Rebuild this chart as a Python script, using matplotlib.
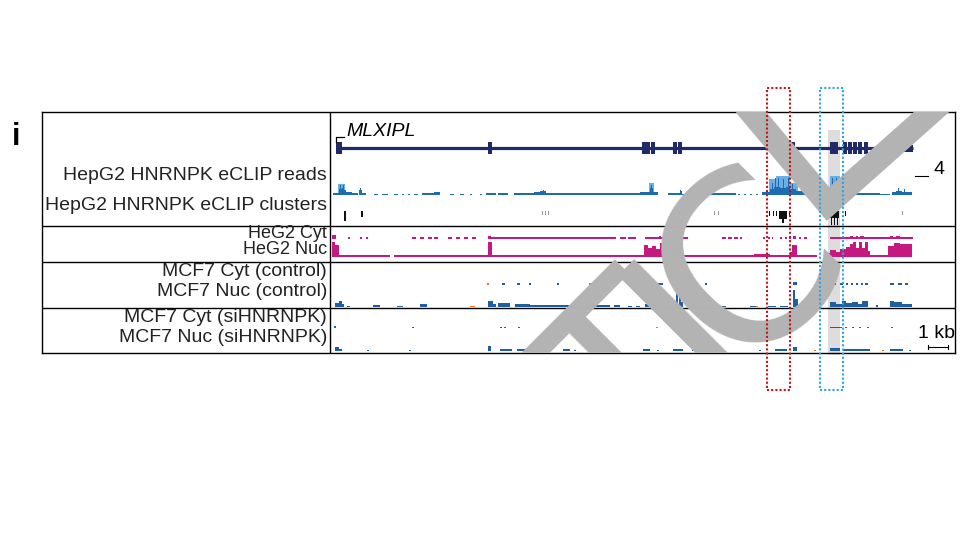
import matplotlib

matplotlib.use("Agg")

import matplotlib.pyplot as plt
from matplotlib.patches import Rectangle

plt.rcParams['font.family'] = ['Liberation Sans', 'DejaVu Sans']

# ---- data (positions in kb along the locus) ----
gene_name = "MLXIPL"
gene_span = (0.3, 29.15)
cds_exons = [(0.3, 0.6), (7.92, 8.08), (15.62, 15.78), (15.82, 15.98), (16.07, 16.23),
             (17.17, 17.33), (17.42, 17.58), (23.07, 23.23), (25.0, 25.4), (25.67, 25.83),
             (25.92, 26.08), (26.17, 26.33), (26.42, 26.58), (26.72, 26.88),
             (28.02, 28.18), (28.27, 28.43)]
utr_exons = [(28.65, 29.15)]

# eCLIP read coverage (start, end, signal), scale max = 4
reads_dark = [(0.15, 0.45, 0.5), (0.45, 0.6, 1.2), (0.6, 0.7, 1.5), (0.7, 0.8, 1.0), (0.8, 1.1, 0.7),
              (1.1, 1.4, 0.4), (1.45, 1.6, 1.1), (1.6, 1.8, 0.5), (2.2, 2.4, 0.3), (2.6, 2.9, 0.3),
              (3.2, 3.4, 0.3), (3.6, 3.7, 0.3), (3.9, 4.0, 0.3), (4.2, 4.4, 0.3), (4.6, 5.2, 0.4),
              (5.2, 5.5, 0.6), (6.0, 6.2, 0.3), (6.5, 6.7, 0.3), (7.0, 7.1, 0.2), (7.5, 7.6, 0.2),
              (7.8, 8.3, 0.5), (8.4, 8.9, 0.4), (9.2, 10.2, 0.4), (10.2, 10.5, 0.6), (10.5, 10.8, 0.8),
              (10.8, 12.0, 0.5), (12.0, 13.5, 0.5), (13.5, 15.0, 0.4), (15.0, 15.5, 0.5),
              (15.5, 16.0, 0.6), (16.0, 16.15, 1.4), (16.15, 16.4, 0.6), (16.9, 17.5, 0.4),
              (17.5, 17.6, 0.8), (17.6, 18.3, 0.3), (18.4, 18.5, 0.8), (18.6, 18.8, 0.5),
              (18.8, 20.3, 0.4), (20.4, 20.5, 0.2), (20.7, 20.8, 0.2), (21.0, 21.1, 0.2),
              (21.3, 21.4, 0.2), (21.6, 22.0, 0.6), (22.0, 22.2, 1.2), (22.2, 22.5, 1.6),
              (22.5, 22.8, 1.4), (22.8, 23.0, 1.7), (23.0, 23.3, 1.2), (23.3, 23.6, 0.8),
              (23.6, 24.0, 0.6), (24.0, 24.4, 0.3), (24.6, 24.9, 0.3), (24.9, 25.0, 0.8),
              (25.0, 25.2, 1.6), (25.2, 25.45, 1.8), (25.45, 25.7, 1.3), (25.7, 25.9, 1.0),
              (25.9, 26.2, 0.7), (26.2, 27.5, 0.5), (27.5, 28.0, 0.2), (28.1, 28.3, 0.7),
              (28.3, 28.6, 0.9), (28.6, 29.1, 0.7)]
reads_spikes = [(0.5, 2.2), (0.65, 2.1), (1.5, 1.4), (10.65, 1.1), (16.05, 2.2), (17.52, 1.0),
                (18.45, 1.0), (22.1, 2.6), (22.25, 3.5), (22.4, 3.6), (22.65, 3.3), (22.9, 3.6),
                (23.1, 2.4), (25.1, 3.6), (25.3, 3.5), (25.55, 2.3), (25.75, 1.8), (28.4, 1.4),
                (28.7, 1.2)]
reads_light = [(0.4, 0.75, 2.4), (15.95, 16.2, 2.5), (21.95, 22.3, 3.4), (22.3, 23.0, 3.9),
               (23.0, 23.4, 2.6), (25.0, 25.5, 3.9), (25.5, 25.8, 2.4)]

# eCLIP clusters (start, end, depth)
clusters_black = [(0.72, 0.8, 10), (1.57, 1.65, 6), (21.95, 22.0, 5), (22.15, 22.2, 5),
                  (22.3, 22.35, 5), (22.45, 22.85, 8), (22.6, 22.7, 12), (22.95, 23.0, 5),
                  (25.0, 25.45, 7), (25.05, 25.1, 14), (25.2, 25.25, 14), (25.35, 25.4, 14),
                  (25.75, 25.82, 5)]
clusters_grey = [(10.6, 10.65, 4), (10.75, 10.8, 4), (10.9, 10.95, 4), (19.2, 19.25, 4),
                 (19.4, 19.45, 4), (28.62, 28.67, 4)]

# HepG2 fractionation RNA-seq (start, end, height)
hep_cyt = [(0.1, 0.3, 4), (0.9, 1.0, 1.5), (1.5, 1.6, 1.5), (1.8, 1.9, 1.5), (4.1, 4.3, 1.5),
           (4.5, 4.7, 1.5), (4.9, 5.1, 1.5), (5.2, 5.4, 1.5), (5.9, 6.1, 1.5), (6.3, 6.5, 1.5),
           (6.7, 6.9, 1.5), (7.1, 7.3, 1.5), (7.9, 8.05, 3), (8.05, 14.3, 1.5), (14.5, 14.8, 1.5),
           (14.9, 15.3, 1.5), (15.75, 17.9, 1.5), (16.45, 16.55, 3), (17.15, 17.3, 3),
           (19.6, 19.8, 1.5), (19.9, 20.1, 1.5), (20.2, 20.4, 1.5), (20.5, 20.6, 1.5),
           (21.65, 21.75, 1.5), (21.9, 22.0, 1.5), (22.1, 22.15, 1.5), (22.5, 22.6, 1.5),
           (22.75, 22.85, 1.5), (22.95, 23.05, 1.5), (23.15, 23.3, 2.5), (23.45, 23.55, 1.5),
           (23.7, 23.85, 1.5), (25.0, 29.15, 1.5), (26.0, 26.15, 2.5), (26.3, 26.4, 2.5),
           (26.5, 26.7, 3), (28.0, 28.15, 2.5), (28.3, 28.5, 2.5)]
hep_nuc = [(0.1, 0.25, 15), (0.25, 0.45, 12), (0.45, 3.0, 1.2), (3.2, 7.9, 1.2), (7.9, 8.1, 15),
           (8.1, 15.7, 1.5), (15.7, 15.9, 12), (15.9, 16.1, 9), (16.1, 16.3, 11), (16.3, 16.5, 8),
           (16.5, 16.65, 14), (16.65, 17.15, 1.5), (17.15, 17.3, 15), (17.3, 17.4, 3),
           (17.4, 17.55, 15), (17.55, 21.2, 1.5), (21.2, 22.0, 2.5), (22.0, 23.0, 1.5),
           (23.0, 23.1, 5), (23.1, 23.35, 12), (23.35, 24.35, 1.5), (24.85, 25.0, 4),
           (25.0, 25.3, 7), (25.3, 25.5, 5), (25.5, 25.8, 8), (25.8, 26.0, 10), (26.0, 26.15, 13),
           (26.15, 26.3, 15), (26.3, 26.45, 9), (26.45, 26.6, 15), (26.6, 26.75, 9),
           (26.75, 26.9, 15), (26.9, 27.0, 6), (27.0, 27.9, 2), (27.9, 28.2, 11),
           (28.2, 28.5, 14), (28.5, 29.1, 13)]

# MCF7 fractionation RNA-seq, control and siHNRNPK (start, end, height)
ctrl_cyt = [(8.6, 8.75, 2), (9.35, 9.5, 2), (9.95, 10.05, 2), (11.35, 11.45, 2), (16.25, 16.65, 2),
            (17.5, 17.65, 2), (17.85, 17.95, 2), (18.75, 18.85, 2), (23.15, 23.35, 3),
            (25.0, 25.3, 2), (25.5, 25.65, 2), (25.8, 25.9, 2), (26.05, 26.15, 2), (26.3, 26.4, 2),
            (26.55, 26.65, 2), (26.75, 26.9, 2), (28.0, 28.2, 2), (28.4, 28.6, 2), (28.75, 28.9, 2)]
ctrl_cyt_minor = [(7.85, 7.95, 2), (12.95, 13.05, 2), (15.35, 15.5, 2)]
ctrl_nuc = [(0.25, 0.45, 4), (0.45, 0.6, 6), (0.6, 0.7, 3), (0.85, 1.0, 1.5), (2.15, 2.5, 2),
            (3.35, 3.65, 1.5), (4.5, 4.85, 3), (7.9, 8.15, 6), (8.15, 8.3, 3), (8.4, 9.0, 4),
            (9.25, 10.0, 3), (10.0, 12.0, 2.5), (12.0, 14.0, 2), (14.2, 14.5, 2), (14.9, 15.1, 1.5),
            (15.3, 15.5, 1.5), (15.75, 16.65, 3), (17.3, 17.4, 14), (17.45, 17.55, 17),
            (17.55, 17.65, 5), (18.0, 18.2, 1), (18.5, 18.7, 1), (19.1, 19.2, 1), (19.6, 19.8, 1),
            (21.0, 21.3, 1.5), (21.9, 22.3, 1.5), (22.5, 22.9, 1.5), (23.15, 23.25, 17),
            (23.25, 23.4, 8), (25.0, 25.3, 5), (25.3, 25.6, 3), (25.6, 25.8, 6), (25.8, 26.1, 4),
            (26.1, 26.4, 5), (26.4, 26.6, 3), (26.6, 26.9, 6), (27.3, 27.4, 2), (28.0, 28.2, 6),
            (28.2, 28.6, 5), (28.6, 29.1, 3)]
ctrl_nuc_minor = [(7.0, 7.25, 1.5), (16.7, 16.9, 2), (21.3, 21.4, 1.5)]
si_cyt = [(0.2, 0.3, 2), (4.1, 4.2, 1), (8.5, 8.6, 1.5), (8.7, 8.8, 1.5), (9.4, 9.5, 1),
          (23.0, 23.35, 1.5), (25.0, 25.6, 1.5), (25.75, 25.85, 1.5), (26.1, 26.2, 1.5),
          (26.45, 26.55, 1.5), (26.85, 26.95, 1.5), (28.05, 28.15, 1.5)]
si_cyt_minor = [(16.3, 16.4, 1.5)]
si_nuc = [(0.25, 0.45, 4), (0.45, 0.6, 2), (1.85, 1.95, 1.5), (3.95, 4.05, 1.5), (7.9, 8.05, 5),
          (8.5, 9.1, 2), (9.35, 10.15, 2), (10.8, 10.9, 1.5), (11.65, 12.0, 2), (12.2, 12.3, 1.5),
          (13.35, 13.85, 1.5), (15.65, 16.0, 2), (16.35, 16.45, 1.5), (17.15, 17.65, 2),
          (18.1, 18.35, 1.5), (21.45, 21.55, 1.5), (22.25, 22.85, 2), (23.15, 23.35, 4),
          (25.0, 25.5, 3), (25.65, 27.0, 2), (28.0, 28.65, 2), (28.95, 29.05, 1.5)]
si_nuc_minor = [(24.2, 24.3, 1.5), (27.6, 27.7, 1.5)]

# highlighted regions (kb)
red_box = (21.85, 23.0)
blue_box = (24.5, 25.65)
grey_band = (24.9, 25.5)

track_labels = [("HepG2 HNRNPK eCLIP reads", 178, 14), ("HepG2 HNRNPK eCLIP clusters", 147, 14),
                ("HeG2 Cyt", 120, 13), ("HeG2 Nuc", 104, 13),
                ("MCF7 Cyt (control)", 81, 14), ("MCF7 Nuc (control)", 61, 14),
                ("MCF7 Cyt (siHNRNPK)", 35, 14), ("MCF7 Nuc (siHNRNPK)", 15, 14)]
row_dividers = [127, 91, 45]

# ---- colours ----
NAVY = "#1f2a66"
BLUE_D = "#1d6cb3"
BLUE_L = "#6aaee3"
MAGENTA = "#c41a7f"
MCF_BLUE = "#1f5f9f"
ORANGE = "#e3782b"
WM_GREY = "#b3b3b3"

fig = plt.figure(figsize=(9.6, 5.4), dpi=100)
ax = fig.add_axes([42 / 960, 1 - 353 / 540, (955 - 42) / 960, 241 / 540])
ax.set_xlim(-14.4, 31.25)
ax.set_ylim(0, 241)
ax.set_xticks([])
ax.set_yticks([])
for sp in ax.spines.values():
    sp.set_linewidth(1.0)

ax.axvline(0, color="k", lw=1.0)
for y in row_dividers:
    ax.axhline(y, color="k", lw=1.0)


def draw_segments(segs, base, scale, color, z=3):
    xs = [s for s, e, h in segs]
    ws = [e - s for s, e, h in segs]
    hs = [h * scale for s, e, h in segs]
    ax.bar(xs, hs, width=ws, bottom=base, align="edge", color=color, linewidth=0, zorder=z)


# grey highlight band
ax.add_patch(Rectangle((grey_band[0], -2), grey_band[1] - grey_band[0], 225,
                       facecolor="#dddddd", edgecolor="none", zorder=1, clip_on=False))

# gene model
gene_y = 205
ax.plot(gene_span, [gene_y, gene_y], color=NAVY, lw=2.3, solid_capstyle="butt", zorder=3)
draw_segments([(s, e, 12) for s, e in cds_exons], gene_y - 6, 1, NAVY)
draw_segments([(s, e, 7) for s, e in utr_exons], gene_y - 3.5, 1, NAVY)
ax.plot([0.3, 0.3, 0.7], [gene_y + 6, gene_y + 11, gene_y + 11], color="k", lw=0.9, zorder=3)
ax.text(0.8, 222, gene_name, fontsize=14, style="italic", ha="left", va="center")

# eCLIP reads
reads_base = 158
unit = 4.75
draw_segments(reads_light, reads_base, unit, BLUE_L, z=2)
draw_segments(reads_dark, reads_base, unit, BLUE_D)
draw_segments([(x - 0.025, x + 0.025, h) for x, h in reads_spikes], reads_base, unit, BLUE_D)
ax.plot([29.25, 29.9], [4 * unit + reads_base, 4 * unit + reads_base], color="k", lw=0.8)
ax.text(30.15, 183, "4", fontsize=14, ha="left", va="center")

# eCLIP clusters
clus_top = 142
ax.bar([s for s, e, d in clusters_black], [d for s, e, d in clusters_black],
       width=[e - s for s, e, d in clusters_black], bottom=[clus_top - d for s, e, d in clusters_black],
       align="edge", color="#111111", linewidth=0, zorder=3)
ax.bar([s for s, e, d in clusters_grey], [d for s, e, d in clusters_grey],
       width=[e - s for s, e, d in clusters_grey], bottom=[clus_top - d for s, e, d in clusters_grey],
       align="edge", color="#9a9a9a", linewidth=0, zorder=3)

# HepG2 fractions
draw_segments(hep_cyt, 114.5, 1, MAGENTA)
draw_segments(hep_nuc, 96.5, 1, MAGENTA)

# MCF7 control
draw_segments(ctrl_cyt, 68, 1, MCF_BLUE)
draw_segments(ctrl_cyt_minor, 68, 1, ORANGE)
draw_segments(ctrl_nuc, 46, 1, MCF_BLUE)
draw_segments(ctrl_nuc_minor, 46, 1, ORANGE)

# MCF7 siHNRNPK
draw_segments(si_cyt, 25, 1, MCF_BLUE)
draw_segments(si_cyt_minor, 25, 1, ORANGE)
draw_segments(si_nuc, 2, 1, MCF_BLUE)
draw_segments(si_nuc_minor, 2, 1, ORANGE)

# track labels
for lab, y, fs in track_labels:
    ax.text(-0.15, y, lab, fontsize=fs, ha="right", va="center", color="#222222")

# watermark: rotated letters plus a tick stroke
for ch, x, y in [("T", 17.8, -80), ("I", 20.55, -19), ("C", 23.4, 38)]:
    ax.text(x, y, ch, fontsize=170, rotation=45, rotation_mode="anchor", color=WM_GREY,
            ha="center", va="baseline", zorder=6, clip_on=True,
            family=["DejaVu Sans"])
ax.plot([20.75, 24.9, 30.75], [248, 149, 253], color=WM_GREY, lw=17,
        solid_joinstyle="miter", solid_capstyle="butt", zorder=6)

# dotted highlight boxes
for (x0, x1), col in [(red_box, "#c3141c"), (blue_box, "#2aa7e0")]:
    ax.add_patch(Rectangle((x0, -37), x1 - x0, 302, fill=False, edgecolor=col, lw=1.5,
                           linestyle=(0, (1, 1)), zorder=8, clip_on=False))

# scale bar
ax.text(30.35, 20, "1 kb", fontsize=14, ha="center", va="center")
ax.plot([29.9, 30.9], [6, 6], color="k", lw=0.8, clip_on=False)
ax.plot([29.9, 29.9], [4, 8], color="k", lw=0.8, clip_on=False)
ax.plot([30.9, 30.9], [4, 8], color="k", lw=0.8, clip_on=False)

fig.text(12 / 960, 1 - 137 / 540, "i", fontsize=22, fontweight="bold", ha="left", va="center")

fig.savefig("out.png", dpi=100)
